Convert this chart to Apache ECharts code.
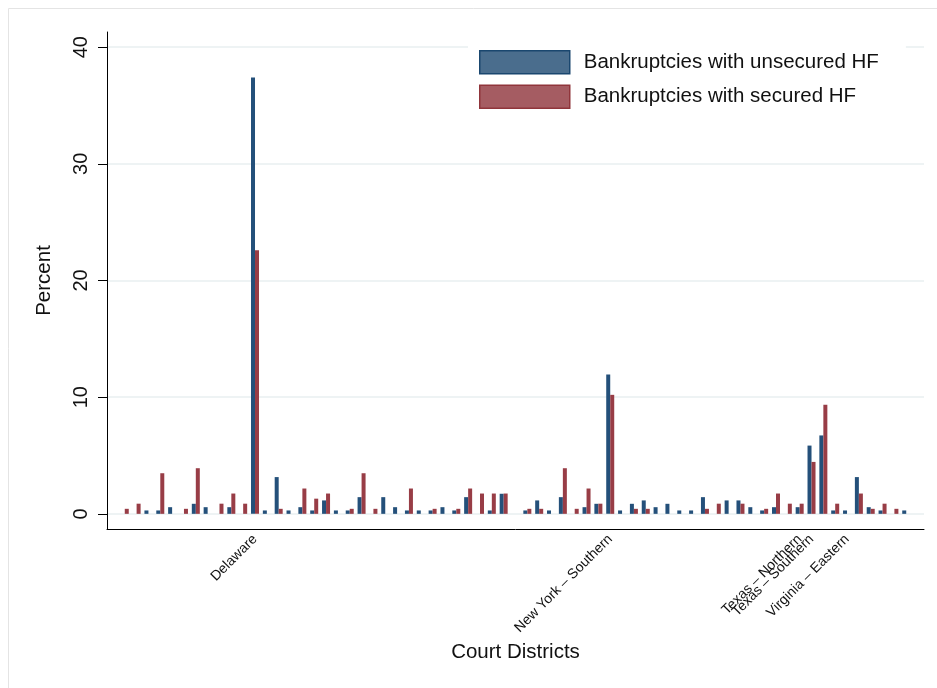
<!DOCTYPE html>
<html><head><meta charset="utf-8">
<script src="https://cdn.jsdelivr.net/npm/echarts@6/dist/echarts.min.js"></script>
<style>html,body{margin:0;padding:0;background:#fff}#c{width:937px;height:688px}</style>
</head><body><div id="c"></div>
<script>
// Court districts (only the labelled ones are named in the reference)
const categories = [
  '', '', '', '', '', '', '', '', '', '', '', 'Delaware',
  '', '', '', '', '', '', '', '', '', '', '', '', '', '', '', '', '', '', '',
  '', '', '', '', '', '', '', '', '', '', 'New York – Southern',
  '', '', '', '', '', '', '', '', '', '', '', '', '', '', '',
  'Texas – Northern', 'Texas – Southern', '', '', 'Virginia – Eastern',
  '', '', '', ''
];
const unsecured = [
  0, 0, 0.29, 0.29, 0.57, 0, 0.86, 0.57, 0, 0.57, 0, 37.4,
  0.29, 3.15, 0.29, 0.57, 0.29, 1.15, 0.29, 0.29, 1.43, 0, 1.43, 0.57, 0.29, 0.29, 0.29, 0.57, 0.29, 1.43, 0,
  0.29, 1.72, 0, 0.29, 1.15, 0.29, 1.43, 0, 0.57, 0.86, 11.95,
  0.29, 0.86, 1.15, 0.57, 0.86, 0.29, 0.29, 1.43, 0, 1.15, 1.15, 0.57, 0.29, 0.57, 0, 0.57,
  5.85, 6.72, 0.29, 0.29, 3.15,
  0.57, 0.29, 0, 0.29
];
const secured = [
  0.43, 0.87, 0, 3.48, 0, 0.43, 3.91, 0, 0.87, 1.74, 0.87, 22.6,
  0, 0.43, 0, 2.17, 1.3, 1.74, 0, 0.43, 3.48, 0.43, 0, 0, 2.17, 0, 0.43, 0, 0.43, 2.17, 1.74,
  1.74, 1.74, 0, 0.43, 0.43, 0, 3.91, 0.43, 2.17, 0.87, 10.2,
  0, 0.43, 0.43, 0, 0, 0, 0, 0.43, 0.87, 0, 0.87, 0, 0.43, 1.74, 0.87, 0.87,
  4.45, 9.35, 0.87, 0, 1.74,
  0.43, 0.87, 0.43, 0
];
const yTicks = [0, 10, 20, 30, 40];
const seriesNames = ['Bankruptcies with unsecured HF', 'Bankruptcies with secured HF'];

const labelIdx = categories.map((c, i) => c ? i : -1).filter(i => i >= 0);
const FONT = '"Liberation Sans", Arial, Helvetica, sans-serif';

const chart = echarts.init(document.getElementById('c'), null, {renderer: 'canvas'});
chart.setOption({
  animation: false,
  backgroundColor: '#fff',
  textStyle: {fontFamily: FONT},
  graphic: [{
    type: 'rect', silent: true, z: -10,
    shape: {x: 8.5, y: 8.5, width: 980, height: 720},
    style: {fill: 'none', stroke: '#e4e4e4', lineWidth: 1}
  }],
  grid: {left: 107, right: 13, top: 32, bottom: 159, containLabel: false},
  legend: {
    orient: 'vertical', left: 468, top: 40,
    padding: [10, 27, 10, 11],
    itemWidth: 90, itemHeight: 23, itemGap: 10,
    backgroundColor: '#fff',
    icon: 'rect',
    selectedMode: false,
    textStyle: {fontSize: 20.5, color: '#111', fontFamily: FONT, padding: [0, 0, 0, 9]},
    data: [
      {name: seriesNames[0], itemStyle: {color: '#4a6d8d', borderColor: '#1a476f', borderWidth: 1.5}},
      {name: seriesNames[1], itemStyle: {color: '#a55c62', borderColor: '#90353b', borderWidth: 1.5}}
    ]
  },
  xAxis: {
    type: 'value', min: -1.5, max: 67.5,
    axisLine: {show: true, onZero: false, lineStyle: {color: '#000', width: 1}},
    axisTick: {show: false},
    splitLine: {show: false},
    axisLabel: {
      customValues: labelIdx, rotate: 45, fontSize: 14, color: '#111', margin: 8,
      fontFamily: FONT,
      formatter: v => categories[Math.round(v)] || ''
    },
    name: 'Court Districts', nameLocation: 'middle', nameGap: 110,
    nameTextStyle: {fontSize: 20.5, color: '#111', fontFamily: FONT}
  },
  yAxis: {
    type: 'value', min: -1.3, max: 41.3,
    axisLine: {show: true, onZero: false, lineStyle: {color: '#000', width: 1}},
    axisTick: {show: true, length: 9, customValues: yTicks, lineStyle: {color: '#000'}},
    axisLabel: {customValues: yTicks, rotate: 90, fontSize: 20, color: '#111', margin: 16, fontFamily: FONT},
    splitLine: {show: true, lineStyle: {color: '#e8eff1', width: 1.5}},
    name: 'Percent', nameLocation: 'middle', nameGap: 52, nameRotate: 90,
    nameTextStyle: {fontSize: 20.5, color: '#111', fontFamily: FONT}
  },
  series: [
    {
      name: seriesNames[0], type: 'bar', barWidth: 4, barGap: '0%',
      data: unsecured.map((v, i) => [i, v]),
      itemStyle: {color: '#24507a'},
      emphasis: {disabled: true}
    },
    {
      name: seriesNames[1], type: 'bar', barWidth: 4, barGap: '0%',
      data: secured.map((v, i) => [i, v]),
      itemStyle: {color: '#983d46'},
      emphasis: {disabled: true}
    }
  ]
});
</script>
</body></html>
